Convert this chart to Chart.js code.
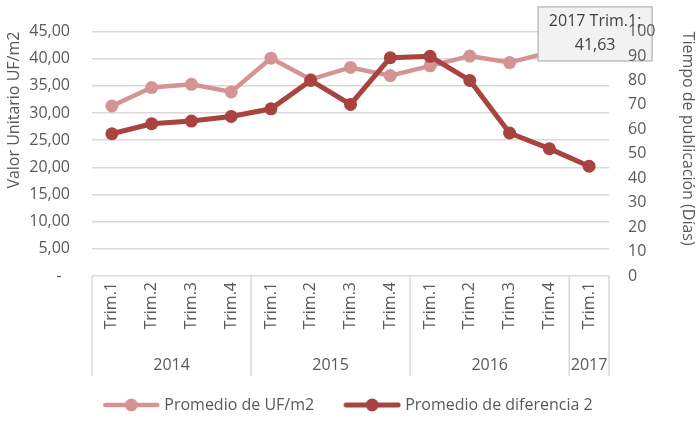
<!DOCTYPE html>
<html>
<head>
<meta charset="utf-8">
<script src="https://cdn.jsdelivr.net/npm/chart.js@4/dist/chart.umd.min.js"></script>
<style>
  html, body { margin: 0; padding: 0; background: #fff; }
  #wrap { width: 699px; height: 423px; }
</style>
</head>
<body>
<div id="wrap"><canvas id="chart" width="699" height="423"></canvas></div>
<script>
// Trimestres (eje X) y agrupación por año
const quarters = ["Trim.1", "Trim.2", "Trim.3", "Trim.4", "Trim.1", "Trim.2", "Trim.3", "Trim.4",
  "Trim.1", "Trim.2", "Trim.3", "Trim.4", "Trim.1"];
const years = ["2014", "2015", "2016", "2017"];
const quartersPerYear = [4, 4, 4, 1];

// Series
const ufM2 = [31.3, 34.7, 35.3, 33.9, 40.1, 36.2, 38.4, 36.9, 38.7, 40.5, 39.3, 41.2, 41.63];
const diasPublicacion = [58.2, 62.3, 63.4, 65.3, 68.4, 80.0, 70.2, 89.3, 89.9, 80.0, 58.5, 52.1, 44.9];

// Etiqueta de dato visible (punto 2017 Trim.1 de UF/m2)
const labelIndex = 12;

const lightRed = "#d49493";
const darkRed = "#a8433f";
const textGray = "#595959";
const gridGray = "#d9d9d9";
const font = "'Open Sans', sans-serif";

function legendMark(color, lw, r) {
  const c = document.createElement("canvas");
  c.width = 58;
  c.height = 16;
  const g = c.getContext("2d");
  g.strokeStyle = color;
  g.lineWidth = lw;
  g.lineCap = "round";
  g.beginPath();
  g.moveTo(3, 8);
  g.lineTo(55, 8);
  g.stroke();
  g.fillStyle = color;
  g.beginPath();
  g.arc(29, 8, r, 0, Math.PI * 2);
  g.fill();
  return c;
}
const marks = [legendMark(lightRed, 4.5, 6.5), legendMark(darkRed, 5, 6.5)];

const fmt = (v, d) => v.toFixed(d).replace(".", ",");

// años + separadores bajo el eje
const yearGroups = {
  id: "yearGroups",
  afterDraw(chart) {
    const x = chart.scales.x;
    const area = chart.chartArea;
    const ctx = chart.ctx;
    const half = (x.getPixelForValue(1) - x.getPixelForValue(0)) / 2;
    ctx.save();
    ctx.strokeStyle = gridGray;
    ctx.lineWidth = 1.5;
    ctx.fillStyle = textGray;
    ctx.font = "16px " + font;
    ctx.textAlign = "center";
    ctx.textBaseline = "middle";
    let start = 0;
    years.forEach((yr, i) => {
      const end = start + quartersPerYear[i] - 1;
      const l = x.getPixelForValue(start) - half;
      const r = x.getPixelForValue(end) + half;
      ctx.beginPath();
      ctx.moveTo(l, area.bottom);
      ctx.lineTo(l, area.bottom + 100);
      if (i === years.length - 1) {
        ctx.moveTo(r, area.bottom);
        ctx.lineTo(r, area.bottom + 100);
      }
      ctx.stroke();
      ctx.fillText(yr, (l + r) / 2, area.bottom + 89);
      start = end + 1;
    });
    ctx.restore();
  }
};

// recuadro de la etiqueta de dato
const dataLabel = {
  id: "dataLabel",
  afterDatasetsDraw(chart) {
    const pt = chart.getDatasetMeta(0).data[labelIndex];
    const ctx = chart.ctx;
    const left = pt.x - 51, top = pt.y - 43, w = 114, h = 54;
    ctx.save();
    ctx.fillStyle = "#f2f2f2";
    ctx.strokeStyle = "#bfbfbf";
    ctx.lineWidth = 1.5;
    ctx.fillRect(left, top, w, h);
    ctx.strokeRect(left, top, w, h);
    ctx.fillStyle = "#404040";
    ctx.font = "16px " + font;
    ctx.textAlign = "center";
    ctx.textBaseline = "middle";
    ctx.fillText(years[3] + " " + quarters[labelIndex] + ";", left + w / 2, top + 15);
    ctx.fillText(fmt(ufM2[labelIndex], 2), left + w / 2, top + 39);
    ctx.restore();
  }
};

new Chart(document.getElementById("chart"), {
  type: "line",
  data: {
    labels: quarters,
    datasets: [
      {
        label: "Promedio de UF/m2",
        data: ufM2,
        yAxisID: "y",
        borderColor: lightRed,
        backgroundColor: lightRed,
        borderWidth: 4.5,
        pointRadius: 6.5,
        pointBorderWidth: 0,
        tension: 0,
        order: 1
      },
      {
        label: "Promedio de diferencia 2",
        data: diasPublicacion,
        yAxisID: "y2",
        borderColor: darkRed,
        backgroundColor: darkRed,
        borderWidth: 5,
        pointRadius: 6.5,
        pointBorderWidth: 0,
        tension: 0,
        order: 0
      }
    ]
  },
  options: {
    responsive: false,
    animation: false,
    layout: { padding: { top: 31, left: 0, right: 0, bottom: 0 } },
    plugins: {
      tooltip: { enabled: false },
      legend: {
        position: "bottom",
        labels: {
          usePointStyle: true,
          pointStyleWidth: 50,
          padding: 33,
          color: textGray,
          font: { family: font, size: 16 },
          sort: (a, b) => a.datasetIndex - b.datasetIndex,
          generateLabels(chart) {
            const items = Chart.defaults.plugins.legend.labels.generateLabels(chart);
            items.forEach(it => { it.pointStyle = marks[it.datasetIndex]; });
            return items;
          }
        }
      }
    },
    scales: {
      x: {
        offset: true,
        grid: { display: false, drawTicks: false },
        border: { display: false },
        ticks: {
          color: textGray,
          font: { family: font, size: 16 },
          minRotation: 90,
          maxRotation: 90,
          autoSkip: false,
          padding: 6
        },
        afterFit: s => { s.height = 88; }
      },
      y: {
        position: "left",
        min: 0,
        max: 45,
        grid: { color: gridGray, lineWidth: 1.5, drawTicks: false },
        border: { display: false },
        ticks: {
          stepSize: 5,
          autoSkip: false,
          padding: 22,
          color: textGray,
          font: { family: font, size: 16 },
          callback: v => (v === 0 ? "-  " : fmt(v, 2))
        },
        title: {
          display: true,
          text: "Valor Unitario UF/m2",
          align: "end",
          color: textGray,
          font: { family: font, size: 16 },
          padding: { top: 5, bottom: 0 }
        },
        afterFit: s => { s.width = 92; }
      },
      y2: {
        position: "right",
        min: 0,
        max: 100,
        grid: { display: false, drawTicks: false },
        border: { display: false },
        ticks: {
          stepSize: 10,
          autoSkip: false,
          padding: 19,
          z: 1,
          color: textGray,
          font: { family: font, size: 16 }
        },
        title: {
          display: true,
          text: "Tiempo de publicación (Días)",
          align: "end",
          color: textGray,
          font: { family: font, size: 16 },
          padding: { top: 2, bottom: 0 }
        },
        afterFit: s => { s.width = 90; }
      }
    }
  },
  plugins: [dataLabel, yearGroups]
});
</script>
</body>
</html>
